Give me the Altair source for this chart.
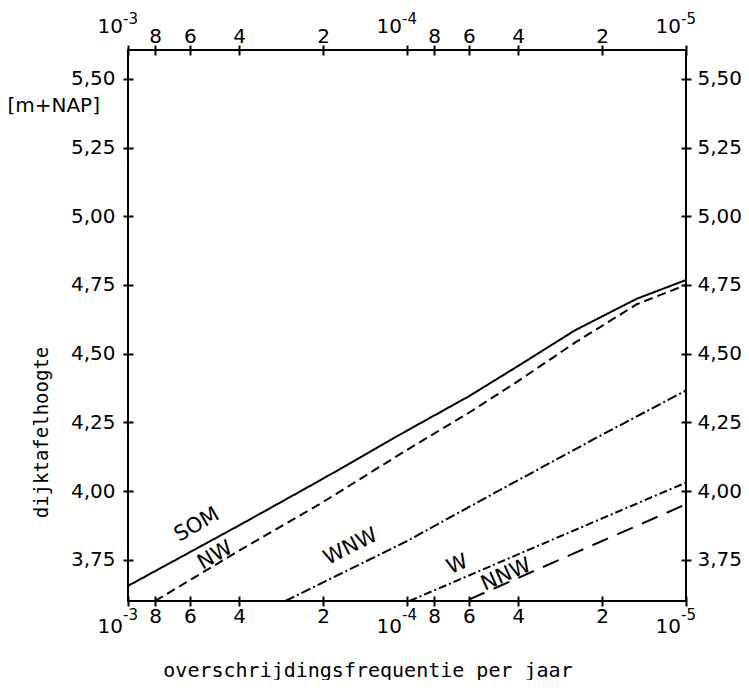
import altair as alt
import pandas as pd

# ---- data ----
series_names = ["SOM", "NW", "WNW", "W", "NNW"]

som_freq = [1e-3, 4e-4, 2e-4, 1e-4, 6e-5, 4e-5, 2.5e-5, 1.5e-5, 1e-5]
som_val = [3.655, 3.875, 4.045, 4.22, 4.345, 4.455, 4.585, 4.70, 4.768]

nw_freq = [8e-4, 4e-4, 2e-4, 1e-4, 6e-5, 4e-5, 2.5e-5, 1.5e-5, 1e-5]
nw_val = [3.60, 3.783, 3.96, 4.150, 4.285, 4.40, 4.54, 4.68, 4.75]

wnw_freq = [2.73e-4, 1e-4, 5e-5, 2e-5, 1e-5]
wnw_val = [3.60, 3.818, 3.986, 4.205, 4.366]

w_freq = [9.8e-5, 3e-5, 1e-5]
w_val = [3.60, 3.824, 4.031]

nnw_freq = [6e-5, 2.5e-5, 1e-5]
nnw_val = [3.605, 3.775, 3.952]

# line label annotations
label_text = ["SOM", "NW", "WNW", "W", "NNW"]
label_freq = [5.66e-4, 4.87e-4, 1.59e-4, 6.59e-5, 4.41e-5]
label_val = [3.877, 3.765, 3.797, 3.732, 3.695]
label_angle = [330, 330, 333, 337, 336]

# axis ticks
x_ticks = [1e-3, 8e-4, 6e-4, 4e-4, 2e-4, 1e-4, 8e-5, 6e-5, 4e-5, 2e-5, 1e-5]
x_tick_labels = ["", "8", "6", "4", "2", "", "8", "6", "4", "2", ""]
decades = [1e-3, 1e-4, 1e-5]
decade_base = ["10", "10", "10"]
decade_exp = ["-3", "-4", "-5"]
y_ticks = [3.75, 4.00, 4.25, 4.50, 4.75, 5.00, 5.25, 5.50]
y_tick_labels = ["3,75", "4,00", "4,25", "4,50", "4,75", "5,00", "5,25", "5,50"]

x_title = "overschrijdingsfrequentie per jaar"
y_title = "dijktafelhoogte"
unit_label = "[m+NAP]"

dash_styles = [[1, 0], [9, 5], [10, 3, 2, 3], [8, 3, 2, 3], [17, 10]]

# ---- build tables ----
df_lines = pd.DataFrame({
    "freq": som_freq + nw_freq + wnw_freq + w_freq + nnw_freq,
    "val": som_val + nw_val + wnw_val + w_val + nnw_val,
    "series": (["SOM"] * len(som_freq) + ["NW"] * len(nw_freq) + ["WNW"] * len(wnw_freq)
               + ["W"] * len(w_freq) + ["NNW"] * len(nnw_freq)),
})
df_labels = pd.DataFrame({"label": label_text, "freq": label_freq, "val": label_val, "angle": label_angle})
df_dec = pd.DataFrame({"freq": decades, "base": decade_base, "exp": decade_exp})
df_unit = pd.DataFrame({"t": [unit_label]})


def label_expr(values, labels):
    expr = "''"
    for v, l in reversed(list(zip(values, labels))):
        expr = f"(abs(datum.value - {v!r}) < {abs(v) * 1e-6!r} ? '{l}' : {expr})"
    return expr


FONT = "DejaVu Sans"
TFONT = "DejaVu Sans Mono"

common = dict(tickSize=10, tickWidth=2, tickColor="black", domain=False, grid=False,
              labelFont=FONT, labelFontSize=20, labelColor="black", labelOverlap=False,
              labelFlush=False, offset=-5)

x_bottom = alt.Axis(orient="bottom", values=x_ticks, labelExpr=label_expr(x_ticks, x_tick_labels),
                    labelPadding=0, title=x_title, titleFont=TFONT, titleFontSize=20,
                    titleFontWeight="normal", titleColor="black", titleX=239.5, titleY=80,
                    titleAlign="center", titleBaseline="alphabetic", **common)
x_top = alt.Axis(orient="top", values=x_ticks, labelExpr=label_expr(x_ticks, x_tick_labels),
                 labelPadding=3, labelBaseline="alphabetic", title=None, **common)
y_left = alt.Axis(orient="left", values=y_ticks, labelExpr=label_expr(y_ticks, y_tick_labels),
                  labelPadding=8, title=y_title, titleFont=TFONT, titleFontSize=19,
                  titleFontWeight="normal", titleColor="black", titleX=-92, titleY=382,
                  titleAngle=270, titleAlign="center", titleBaseline="middle", **common)
y_right = alt.Axis(orient="right", values=y_ticks, labelExpr=label_expr(y_ticks, y_tick_labels),
                   labelPadding=6, title=None, **common)

xs = alt.Scale(type="log", domain=[1e-5, 1e-3], reverse=True, nice=False)
ys = alt.Scale(domain=[3.6, 5.605], nice=False, zero=False)

lines = alt.Chart(df_lines).mark_line(color="black", strokeWidth=2).encode(
    x=alt.X("freq:Q", scale=xs, axis=x_bottom),
    y=alt.Y("val:Q", scale=ys, axis=y_left),
    strokeDash=alt.StrokeDash("series:N", scale=alt.Scale(domain=series_names, range=dash_styles),
                              legend=None),
)

labels = alt.Chart(df_labels).mark_text(font=FONT, fontSize=21, color="black").encode(
    x=alt.X("freq:Q", scale=xs, axis=x_top),
    y=alt.Y("val:Q", scale=ys, axis=y_right),
    text="label:N",
    angle=alt.Angle("angle:Q", scale=None),
)


def dec_layer(field, y, size, align):
    return alt.Chart(df_dec).mark_text(font=FONT, fontSize=size, color="black", align=align,
                                       baseline="alphabetic", dx=-5).encode(
        x=alt.X("freq:Q", scale=xs, axis=None),
        y=alt.value(y),
        text=f"{field}:N",
    )


top_base = dec_layer("base", -17, 20, "right")
top_exp = dec_layer("exp", -26, 15, "left")
bot_base = dec_layer("base", 583, 20, "right")
bot_exp = dec_layer("exp", 570, 15, "left")

unit = alt.Chart(df_unit).mark_text(font=FONT, fontSize=20, color="black", align="right",
                                    baseline="middle").encode(
    x=alt.value(-28), y=alt.value(56), text="t:N")

chart = alt.layer(lines, labels, top_base, top_exp, bot_base, bot_exp, unit).resolve_axis(
    x="independent", y="independent"
).properties(
    width=558, height=551,
    autosize=alt.AutoSizeParams(type="none"),
    padding={"left": 120, "top": 42, "right": 55, "bottom": 79},
).configure_view(stroke="black", strokeWidth=2)

chart.save("out.html", embed_options={"renderer": "svg", "actions": False})
